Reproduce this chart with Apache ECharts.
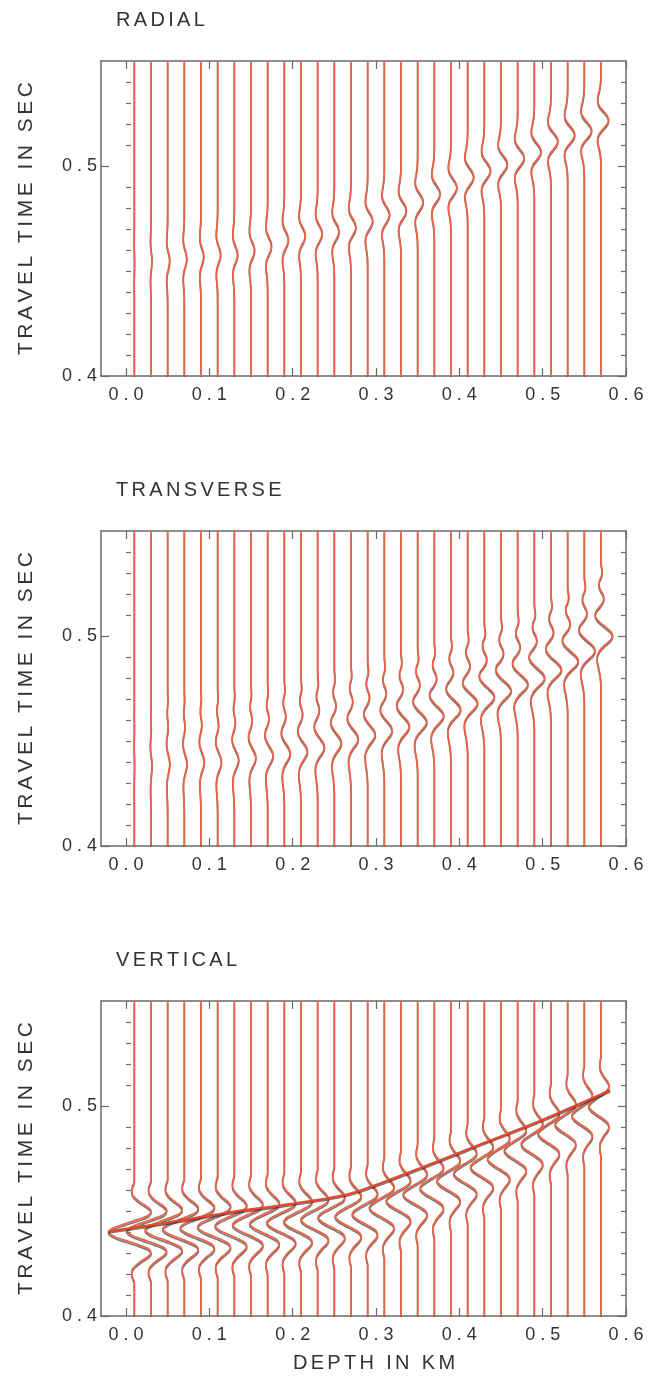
<!DOCTYPE html>
<html>
<head>
<meta charset="utf-8">
<script src="https://cdn.jsdelivr.net/npm/echarts@6/dist/echarts.min.js"></script>
<style>
  html, body { margin: 0; padding: 0; background: #ffffff; }
  #chart { width: 657px; height: 1376px; }
</style>
</head>
<body>
<div id="chart"></div>
<script>
// Receiver depths (km), one trace per depth
const depths = [0.01, 0.03, 0.05, 0.07, 0.09, 0.11, 0.13, 0.15, 0.17, 0.19,
                0.21, 0.23, 0.25, 0.27, 0.29, 0.31, 0.33, 0.35, 0.37, 0.39,
                0.41, 0.43, 0.45, 0.47, 0.49, 0.51, 0.53, 0.55, 0.57];

// Axis ticks and labels
const xTickValues = [0, 0.1, 0.2, 0.3, 0.4, 0.5, 0.6];
const xTickLabels = ['0.0', '0.1', '0.2', '0.3', '0.4', '0.5', '0.6'];
const yLabelValues = [0.4, 0.5];
const yTickLabels = ['0.4', '0.5'];
const yMinorValues = [0.41, 0.42, 0.43, 0.44, 0.45, 0.46, 0.47, 0.48, 0.49,
                      0.51, 0.52, 0.53, 0.54];
const panelTitles = ['RADIAL', 'TRANSVERSE', 'VERTICAL'];
const yAxisTitle = 'TRAVEL TIME IN SEC';
const xAxisTitle = 'DEPTH IN KM';

// Radial component: pulse time (s) and peak deflection (km) per trace
const radialTimes = [0.454, 0.455, 0.455, 0.456, 0.457, 0.458, 0.458, 0.460, 0.462, 0.465,
                     0.467, 0.468, 0.469, 0.471, 0.474, 0.477, 0.479, 0.483, 0.487, 0.490,
                     0.495, 0.498, 0.501, 0.504, 0.507, 0.512, 0.515, 0.517, 0.522];
const radialAmps = [0.0003, 0.0012, 0.0025, 0.0030, 0.0033, 0.0036, 0.0040, 0.0043, 0.0046, 0.0049,
                    0.0052, 0.0055, 0.0057, 0.0059, 0.0061, 0.0063, 0.0065, 0.0067, 0.0069, 0.0071,
                    0.0073, 0.0075, 0.0077, 0.0079, 0.0081, 0.0083, 0.0085, 0.0088, 0.0092];

// Transverse component
const transverseTimes = [0.438, 0.438, 0.439, 0.439, 0.440, 0.440, 0.441, 0.442, 0.443, 0.444,
                         0.445, 0.447, 0.449, 0.451, 0.453, 0.455, 0.457, 0.459, 0.462, 0.465,
                         0.468, 0.471, 0.474, 0.477, 0.480, 0.484, 0.488, 0.493, 0.500];
const transverseAmps = [0.0003, 0.0013, 0.0026, 0.0033, 0.0040, 0.0046, 0.0053, 0.0059, 0.0066, 0.0072,
                        0.0078, 0.0082, 0.0085, 0.0088, 0.0092, 0.0096, 0.0102, 0.0110, 0.0114, 0.0117,
                        0.0119, 0.0121, 0.0123, 0.0124, 0.0125, 0.0126, 0.0128, 0.0130, 0.0140];

// Vertical component: trough time (s) and trough depth (km)
const verticalTimes = [0.440, 0.4405, 0.441, 0.4415, 0.442, 0.4425, 0.443, 0.4435, 0.444, 0.4445,
                       0.445, 0.446, 0.447, 0.4475, 0.4486, 0.4517, 0.455, 0.458, 0.461, 0.4645,
                       0.468, 0.471, 0.475, 0.479, 0.482, 0.487, 0.4915, 0.4955, 0.500];
const verticalAmps = [0.031, 0.029, 0.027, 0.026, 0.025, 0.024, 0.023, 0.022, 0.0215, 0.021,
                      0.0205, 0.020, 0.0195, 0.019, 0.0185, 0.018, 0.0178, 0.0175, 0.0172, 0.017,
                      0.0168, 0.0165, 0.0162, 0.016, 0.0157, 0.0155, 0.0152, 0.015, 0.0148];

// Pulse shapes: time lag (s) from the pick and normalised deflection
const symLags = [-0.024, -0.022, -0.020, -0.018, -0.016, -0.014, -0.012, -0.010, -0.008, -0.006,
                 -0.004, -0.002, 0, 0.002, 0.004, 0.006, 0.008, 0.010, 0.012, 0.014,
                 0.016, 0.018, 0.020, 0.022, 0.024];
const radialPulse = [0, 0, -0.02, -0.04, -0.11, -0.21, -0.35, -0.44, -0.39, -0.11,
                     0.36, 0.81, 1, 0.81, 0.36, -0.11, -0.39, -0.44, -0.35, -0.21,
                     -0.11, -0.04, -0.02, 0, 0];
const verticalPulse = [0, -0.06, -0.10, -0.08, 0.05, 0.25, 0.50, 0.65, 0.55, 0.15,
                       -0.35, -0.80, -1, -0.80, -0.35, 0.15, 0.55, 0.65, 0.50, 0.25,
                       0.05, -0.08, -0.10, -0.06, 0];
const transverseLags = [-0.024, -0.022, -0.020, -0.018, -0.016, -0.014, -0.012, -0.010, -0.008, -0.006,
                        -0.004, -0.002, 0, 0.002, 0.004, 0.006, 0.008, 0.010, 0.012, 0.014,
                        0.016, 0.018, 0.020, 0.022, 0.024, 0.026, 0.028, 0.030, 0.032, 0.034, 0.036];
const transversePulse = [0, -0.02, -0.05, -0.10, -0.17, -0.25, -0.32, -0.33, -0.22, 0.02,
                         0.40, 0.80, 1, 0.85, 0.45, 0, -0.35, -0.50, -0.40, -0.10,
                         0.15, 0.25, 0.15, -0.05, -0.17, -0.15, 0, 0.10, 0.08, 0.02, 0];

// Direct arrival travel-time curve on the vertical section
const arrivalDepths = [-0.021, 0.05, 0.125, 0.2, 0.269, 0.35, 0.437, 0.5, 0.581];
const arrivalTimes = [0.4403, 0.4445, 0.4494, 0.4535, 0.4583, 0.470, 0.4836, 0.4935, 0.5075];

const T_MIN = 0.4, T_MAX = 0.55, X_MIN = -0.03, X_MAX = 0.6;
const FONT = "'Liberation Sans', Arial, Helvetica, sans-serif";
const TEXT = '#333333';
const FRAME = '#6a6a6a';
const TRACE = '#ef6142';

const spaced = (s, gap) => s.split('').join(gap);

const panels = [
  { times: radialTimes, amps: radialAmps, lags: symLags, pulse: radialPulse },
  { times: transverseTimes, amps: transverseAmps, lags: transverseLags, pulse: transversePulse },
  { times: verticalTimes, amps: verticalAmps, lags: symLags, pulse: verticalPulse }
];

const panelTops = [61, 531, 1001];
// main frames, then identical frames that only carry the minor time ticks
const grids = panelTops.concat(panelTops).map(top => ({ left: 101, top: top, width: 525, height: 315 }));

function traceData(x0, t0, amp, lags, pulse) {
  const pts = [[x0, T_MIN]];
  for (let k = 0; k < lags.length; k++) {
    pts.push([x0 + amp * pulse[k], t0 + lags[k]]);
  }
  pts.push([x0, T_MAX]);
  return pts;
}

const frameLine = { show: true, onZero: false, lineStyle: { color: FRAME, width: 1.5 } };
const tickStyle = { color: FRAME, width: 1.2 };

const xAxes = [], yAxes = [], series = [];
panelTops.forEach((top, gi) => {
  ['bottom', 'top'].forEach(pos => {
    xAxes.push({
      gridIndex: gi, type: 'value', position: pos, min: X_MIN, max: X_MAX,
      axisLine: frameLine,
      axisTick: { show: true, inside: true, length: 8, customValues: xTickValues, lineStyle: tickStyle },
      axisLabel: {
        show: pos === 'bottom', customValues: xTickValues, margin: 10,
        fontSize: 18, color: TEXT, fontFamily: FONT,
        formatter: v => {
          const i = xTickValues.findIndex(t => Math.abs(t - v) < 1e-9);
          return i < 0 ? '' : spaced(xTickLabels[i], ' ');
        }
      },
      splitLine: { show: false }
    });
  });
  ['left', 'right'].forEach(pos => {
    yAxes.push({
      gridIndex: gi, type: 'value', position: pos, min: T_MIN, max: T_MAX,
      axisLine: frameLine,
      axisTick: { show: true, inside: true, length: 8, customValues: yLabelValues, lineStyle: tickStyle },
      axisLabel: {
        show: pos === 'left', customValues: yLabelValues, margin: 4,
        fontSize: 18, color: TEXT, fontFamily: FONT,
        formatter: v => {
          const i = yLabelValues.findIndex(t => Math.abs(t - v) < 1e-9);
          return i < 0 ? '' : spaced(yTickLabels[i], ' ');
        }
      },
      splitLine: { show: false },
      name: pos === 'left' ? spaced(yAxisTitle, '\u2006') : '',
      nameLocation: 'middle', nameRotate: 90, nameGap: 64,
      nameTextStyle: { fontSize: 21, color: TEXT, fontFamily: FONT }
    });
  });

  const p = panels[gi];
  depths.forEach((x0, i) => {
    series.push({
      type: 'line', xAxisIndex: gi * 2, yAxisIndex: gi * 2,
      data: traceData(x0, p.times[i], p.amps[i], p.lags, p.pulse),
      showSymbol: false, symbol: 'none', smooth: 0.35, silent: true,
      lineStyle: {
        color: TRACE, width: 1.7,
        shadowColor: 'rgba(40,30,30,0.6)', shadowBlur: 0, shadowOffsetY: 1.8
      },
      z: 2
    });
  });
});

// minor time ticks on both sides of each frame
panelTops.forEach((top, gi) => {
  const g = gi + 3;
  xAxes.push({
    gridIndex: g, type: 'value', min: X_MIN, max: X_MAX, show: false
  });
  ['left', 'right'].forEach(pos => {
    yAxes.push({
      gridIndex: g, type: 'value', position: pos, min: T_MIN, max: T_MAX,
      axisLine: { show: false },
      axisTick: { show: true, inside: true, length: 5, customValues: yMinorValues, lineStyle: tickStyle },
      axisLabel: { show: false },
      splitLine: { show: false }
    });
  });
});

// travel-time curve across the vertical section
series.push({
  type: 'line', xAxisIndex: 4, yAxisIndex: 4,
  data: arrivalDepths.map((x, i) => [x, arrivalTimes[i]]),
  showSymbol: false, symbol: 'none', smooth: 0.3, silent: true,
  lineStyle: {
    color: '#e8452c', width: 2.2,
    shadowColor: 'rgba(40,30,30,0.6)', shadowBlur: 0, shadowOffsetY: 1.4
  },
  z: 3
});

const titleText = (txt, x, y, size, align) => ({
  type: 'text', x: x, y: y, silent: true,
  style: {
    text: txt, fill: TEXT, fontSize: size, fontFamily: FONT,
    align: align, verticalAlign: 'middle', textAlign: align, textVerticalAlign: 'middle'
  }
});

const graphics = [
  titleText(spaced(panelTitles[0], '\u2006'), 116, 20, 20, 'left'),
  titleText(spaced(panelTitles[1], '\u2006'), 116, 490, 20, 'left'),
  titleText(spaced(panelTitles[2], '\u2006'), 116, 960, 20, 'left'),
  titleText(spaced(xAxisTitle, '\u2006'), 374, 1363, 20, 'center')
];

const chart = echarts.init(document.getElementById('chart'), null, { renderer: 'canvas' });
chart.setOption({
  animation: false,
  backgroundColor: '#ffffff',
  grid: grids,
  xAxis: xAxes,
  yAxis: yAxes,
  series: series,
  graphic: graphics
});
</script>
</body>
</html>
